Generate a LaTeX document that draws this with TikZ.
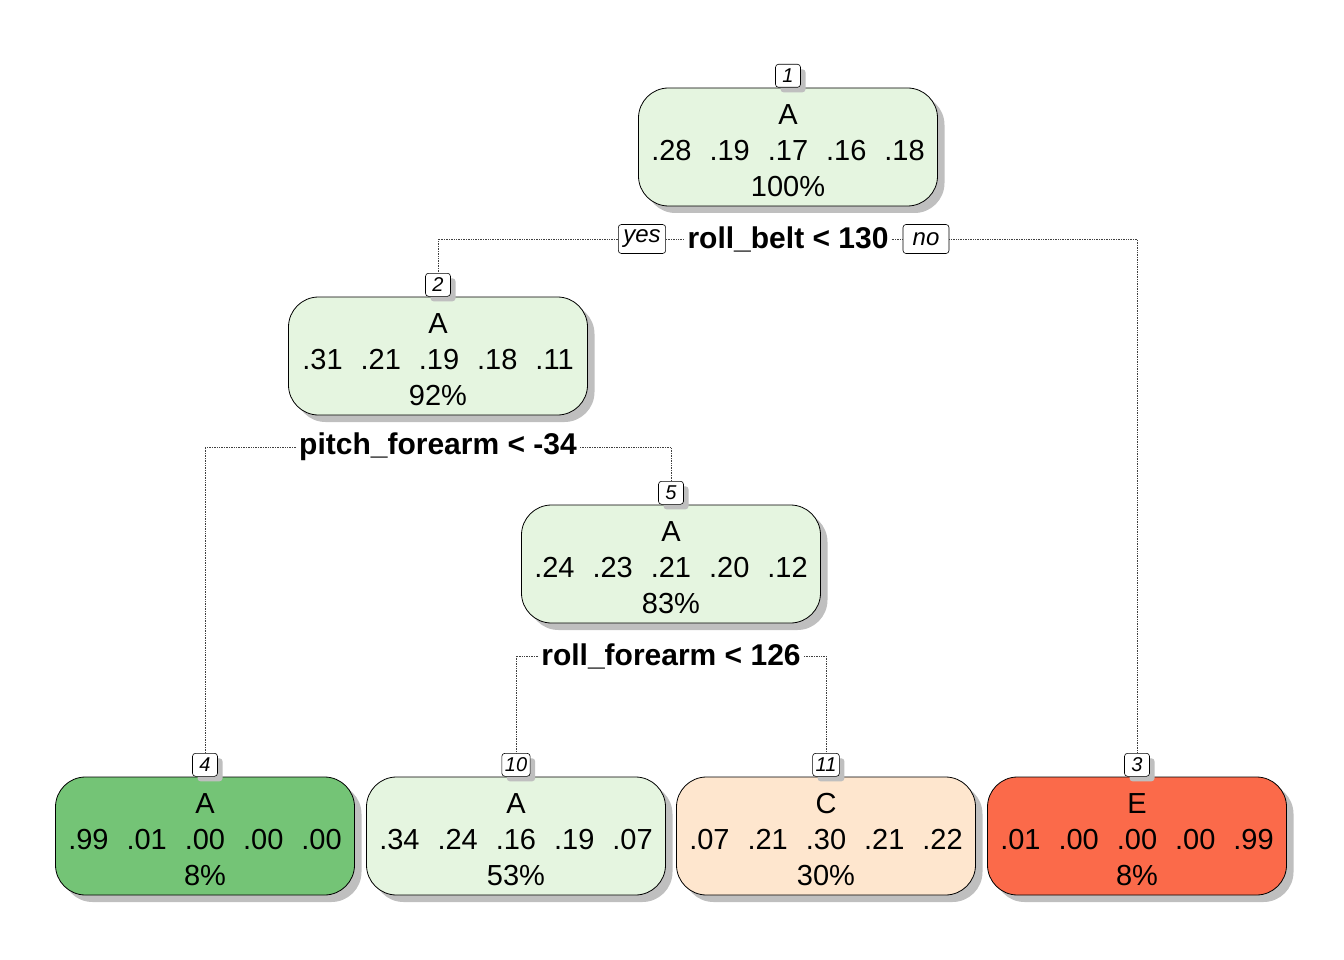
\documentclass[tikz,border=0pt]{standalone}
\usepackage{fontspec}
\setmainfont{Liberation Sans}
\usetikzlibrary{shadows}

\definecolor{lightgreen}{HTML}{E5F5E0}
\definecolor{darkgreen}{HTML}{74C476}
\definecolor{lightorange}{HTML}{FEE6CE}
\definecolor{darkred}{HTML}{FB6A4A}

\newcommand{\probs}[5]{#1\hspace{0.62em}#2\hspace{0.62em}#3\hspace{0.62em}#4\hspace{0.62em}#5}
\newcommand{\topline}[1]{\rule{0pt}{27pt}#1}

\tikzset{
  treebox/.style={draw, line width=0.8pt, rounded corners=30pt, fill=lightgreen,
    minimum width=299pt, minimum height=118pt, align=center, inner sep=0pt,
    font=\fontsize{29}{36}\selectfont,
    copy shadow={shadow xshift=7pt, shadow yshift=-7pt, fill=black!25, draw=none}},
  tagbox/.style={draw, line width=0.6pt, rounded corners=3pt, fill=white,
    minimum width=25pt, minimum height=23pt, inner sep=3pt, anchor=south,
    font=\fontsize{20}{22}\selectfont\itshape,
    copy shadow={shadow xshift=5pt, shadow yshift=-5pt, fill=black!25, draw=none}},
  splitlabel/.style={font=\fontsize{30}{32}\selectfont\bfseries, inner sep=3pt},
  answerbox/.style={draw, line width=0.6pt, rounded corners=3pt, fill=white,
    minimum width=46pt, minimum height=29pt, inner sep=5pt,
    font=\fontsize{24}{26}\selectfont\itshape},
  branch/.style={densely dotted, line width=0.7pt, black!75}
}

\begin{document}
\begin{tikzpicture}[x=1pt,y=-1pt]
\useasboundingbox (0,0) rectangle (1344,960);

% Root and inner nodes
\node[treebox] (n1) at (788,147) {\topline{A}\\\probs{.28}{.19}{.17}{.16}{.18}\\100\%};
\node[treebox] (n2) at (438,356) {\topline{A}\\\probs{.31}{.21}{.19}{.18}{.11}\\92\%};
\node[treebox] (n5) at (671,564) {\topline{A}\\\probs{.24}{.23}{.21}{.20}{.12}\\83\%};

% Leaves
\node[treebox, fill=darkgreen] (n4) at (205,836) {\topline{A}\\\probs{.99}{.01}{.00}{.00}{.00}\\8\%};
\node[treebox] (n10) at (516,836) {\topline{A}\\\probs{.34}{.24}{.16}{.19}{.07}\\53\%};
\node[treebox, fill=lightorange] (n11) at (826,836) {\topline{C}\\\probs{.07}{.21}{.30}{.21}{.22}\\30\%};
\node[treebox, fill=darkred] (n3) at (1137,836) {\topline{E}\\\probs{.01}{.00}{.00}{.00}{.99}\\8\%};

% Node numbers
\node[tagbox] (t1) at (n1.north) {1};
\node[tagbox] (t2) at (n2.north) {2};
\node[tagbox] (t5) at (n5.north) {5};
\node[tagbox] (t4) at (n4.north) {4};
\node[tagbox] (t10) at (n10.north) {10};
\node[tagbox] (t11) at (n11.north) {11};
\node[tagbox] (t3) at (n3.north) {3};

% Split rules
\node[splitlabel] (s1) at (788,239) {roll\_belt < 130};
\node[splitlabel] (s2) at (438,447) {pitch\_forearm < -34};
\node[splitlabel] (s5) at (671,656) {roll\_forearm < 126};
\node[answerbox] (yes1) at (642,239) {yes};
\node[answerbox] (no1) at (926,239) {no};

% Draw the branches
\draw[branch] (yes1.west) -| (t2.north);
\draw[branch] (yes1.east) -- (s1.west);
\draw[branch] (s1.east) -- (no1.west);
\draw[branch] (no1.east) -| (t3.north);
\draw[branch] (s2.west) -| (t4.north);
\draw[branch] (s2.east) -| (t5.north);
\draw[branch] (s5.west) -| (t10.north);
\draw[branch] (s5.east) -| (t11.north);

\end{tikzpicture}
\end{document}
